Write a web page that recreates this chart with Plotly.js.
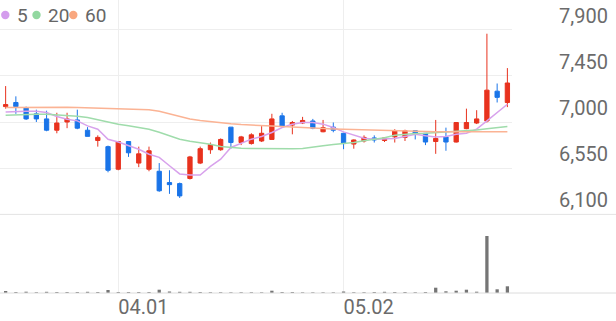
<!DOCTYPE html>
<html>
<head>
<meta charset="utf-8">
<script src="https://cdn.plot.ly/plotly-3.0.1.min.js"></script>
<style>
html,body{margin:0;padding:0;background:#fff;}
#chart{width:616px;height:321px;}
</style>
</head>
<body>
<div id="chart"></div>
<script>
// ---- data ----
const dates = ['03.15','03.18','03.19','03.20','03.21','03.22','03.25','03.26','03.27','03.28','03.29',
  '04.01','04.02','04.03','04.04','04.05','04.08','04.09','04.10','04.11','04.12','04.15','04.16','04.17',
  '04.18','04.19','04.22','04.23','04.24','04.25','04.26','04.29','04.30','05.02','05.03','05.07','05.08',
  '05.09','05.10','05.13','05.14','05.16','05.17','05.20','05.21','05.22','05.23','05.24','05.27','05.28'];

const opens  = [7150,7190,7140,7080,7030,6920,7000,7020,6920,6820,6760,6540,6810,6600,6540,6520,6410,6400,6450,6600,
  6730,6730,6950,6800,6790,6815,6830,7060,6970,6990,7010,6905,6950,6890,6785,6815,6845,6820,6855,6850,
  6915,6890,6810,6855,6805,6935,6990,7010,7300,7190];
const highs  = [7350,7250,7150,7120,7110,7090,7090,7120,6950,6870,6770,6810,6810,6760,6760,6600,6530,6410,6670,6760,
  6800,6840,6950,6865,6890,6960,7080,7090,7010,7050,7030,7020,6995,6895,6830,6870,6870,6850,6930,6925,
  6915,6890,7020,6945,6995,7130,7115,7860,7375,7525];
const lows   = [7130,7080,7020,7000,6910,6890,6940,6930,6860,6760,6510,6530,6660,6560,6520,6320,6300,6260,6440,6590,
  6690,6720,6740,6775,6780,6805,6830,6960,6880,6980,6930,6900,6900,6735,6740,6800,6800,6805,6800,6815,
  6830,6775,6690,6720,6800,6930,6980,6995,7190,7145];
const closes = [7170,7150,7030,7030,6920,6990,7030,6940,6860,6850,6530,6810,6700,6690,6720,6330,6390,6280,6660,6740,
  6780,6830,6800,6855,6875,6890,7030,6960,6995,7015,6940,6945,6920,6790,6825,6850,6825,6845,6915,6915,
  6880,6805,6840,6805,6995,6995,7030,7310,7240,7380];

const ma5  = [7098,7105,7105,7105,7093,7054,7027,7011,6962,6930,6832,6806,6774,6735,6686,6656,6574,6494,6484,6484,
  6567,6638,6752,6794,6833,6859,6898,6946,6979,6995,6995,6979,6946,6904,6871,6842,6832,6832,6839,6859,
  6881,6865,6855,6859,6881,6891,6930,7011,7093,7173];
const ma20 = [7066,7071,7073,7076,7076,7071,7066,7057,7044,7022,6998,6979,6964,6949,6930,6900,6866,6832,6813,6800,
  6783,6761,6752,6745,6742,6740,6740,6740,6740,6742,6759,6769,6781,6789,6800,6818,6832,6847,6871,6881,
  6888,6891,6896,6901,6910,6917,6923,6935,6944,6956];
const ma60 = [7141,7142,7144,7146,7147,7146,7144,7142,7139,7137,7136,7134,7132,7127,7119,7105,7078,7056,7030,7015,
  7003,6993,6984,6976,6969,6964,6960,6956,6950,6947,6942,6937,6933,6929,6926,6922,6918,6915,6914,6912,
  6910,6908,6906,6906,6905,6904,6904,6904,6904,6904];

const volumes = [20,10,13,8,12,10,10,10,12,10,30,10,10,10,10,33,15,12,12,10,8,8,7,8,8,7,23,10,10,7,
  7,7,7,15,8,8,10,12,10,10,8,10,53,17,23,33,13,570,37,67];

const priceTicks = [6100,6550,7000,7450,7900];
const priceTickText = ['6,100','6,550','7,000','7,450','7,900'];
const dateTicks = ['04.01','05.02'];
const legendNames = ['5','20','60'];

// ---- styles ----
const C_UP = '#e8321e', C_DOWN = '#1a74e8';
const C_MA = ['#d8a2ec','#9fdcab','#fbb394'];
const C_LEG = ['#d49ded','#92d8a0','#f9a77f'];
const W = 616, H = 321, B = 28;
const plotH = H - B;
const splitPx = 214.4;
const splitFrac = (plotH - splitPx) / plotH;
const xDomEnd = 512 / W;
const pxPerUnit = 184.8 / 1800;
const yTop = 6100 + splitPx / pxPerUnit;

const maTraces = [ma5, ma20, ma60].map((arr, i) => ({
  type: 'scatter', mode: 'lines', x: dates, y: arr, xaxis: 'x', yaxis: 'y',
  line: {color: C_MA[i], width: 1.5}, hoverinfo: 'skip'
}));

const candle = {
  type: 'candlestick', x: dates, open: opens, high: highs, low: lows, close: closes,
  xaxis: 'x', yaxis: 'y',
  increasing: {line: {color: C_UP, width: 1}, fillcolor: C_UP},
  decreasing: {line: {color: C_DOWN, width: 1}, fillcolor: C_DOWN},
  whiskerwidth: 0, hoverinfo: 'skip'
};

const vol = {
  type: 'bar', x: dates, y: volumes, xaxis: 'x', yaxis: 'y2',
  marker: {color: '#757575'}, width: 0.32, hoverinfo: 'skip'
};

const font = {family: 'Roboto, "Noto Sans", sans-serif', color: '#6b6b6b'};

const pyFrac = py => (plotH - py) / plotH;
const shapes = [
  {type:'line', xref:'paper', yref:'paper', x0:0, x1:1, y0:splitFrac, y1:splitFrac, line:{color:'#e4e4e4', width:1}},
  {type:'line', xref:'paper', yref:'paper', x0:0, x1:1, y0:0, y1:0, line:{color:'#dcdcdc', width:1}}
];
const dotX = [5.3, 36.5, 73.3];
const textX = [15, 46, 83];
const annotations = [];
dotX.forEach((dx, i) => {
  shapes.push({type:'circle', xref:'paper', yref:'paper', xsizemode:'pixel', ysizemode:'pixel',
    xanchor: dx / W, yanchor: pyFrac(15), x0:-4.2, x1:4.2, y0:-4.2, y1:4.2,
    fillcolor: C_LEG[i], line:{width:0}});
  annotations.push({xref:'paper', yref:'paper', x: textX[i] / W, y: pyFrac(15.5), xanchor:'left', yanchor:'middle',
    text: legendNames[i], showarrow:false, font: Object.assign({}, font, {size:19, color:'#666'})});
});

const layout = {
  width: W, height: H,
  margin: {l:0, r:0, t:0, b:B, pad:0},
  paper_bgcolor: '#ffffff', plot_bgcolor: '#ffffff',
  showlegend: false,
  boxgap: 0.4, boxgroupgap: 0.3,
  xaxis: {
    type:'category', domain:[0, xDomEnd], range:[-0.55, 49.45], anchor:'y2',
    tickvals: dateTicks, ticktext: dateTicks, ticks:'', showgrid:true, gridcolor:'#eeeeee', gridwidth:1,
    ticklabelposition:'outside right', tickfont: Object.assign({}, font, {size:20}),
    rangeslider:{visible:false}, showline:false, zeroline:false, fixedrange:true
  },
  yaxis: {
    domain:[splitFrac, 1], range:[6100, yTop], side:'right', anchor:'x',
    tickvals: priceTicks, ticktext: priceTickText, ticks:'', showgrid:true, gridcolor:'#eeeeee', gridwidth:1,
    ticklabelshift: -14, ticklabelstandoff: 46,
    tickfont: Object.assign({}, font, {size:20}), zeroline:false, showline:false, fixedrange:true
  },
  yaxis2: {
    domain:[0, splitFrac], range:[0, 786], anchor:'x', showgrid:false, showticklabels:false,
    zeroline:false, showline:false, fixedrange:true
  },
  shapes: shapes,
  annotations: annotations
};

Plotly.newPlot('chart', [...maTraces, candle, vol], layout, {staticPlot:true, displayModeBar:false});
</script>
</body>
</html>
